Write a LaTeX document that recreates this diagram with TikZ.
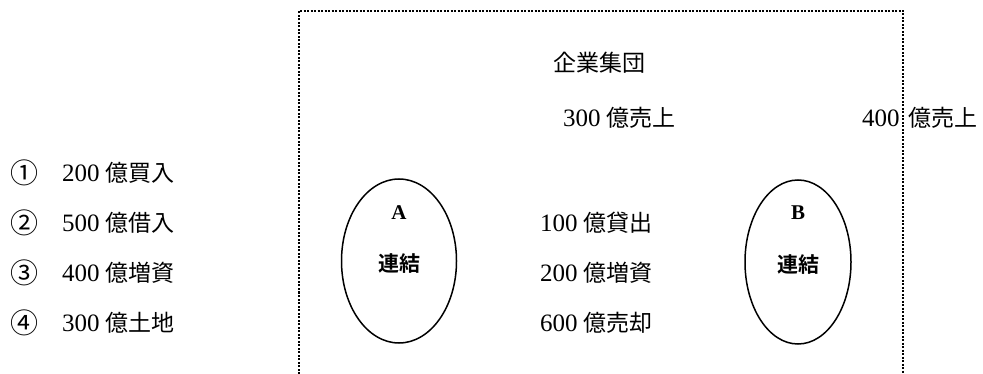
\documentclass[tikz,border=0pt]{standalone}
\usepackage{fontspec}
\setmainfont{Liberation Serif}
\newfontfamily\cjk{Noto Sans CJK JP}
\newfontfamily\cjkb{Noto Sans CJK JP Bold}
\usetikzlibrary{shapes.geometric}
\begin{document}
\begin{tikzpicture}[x=1pt,y=-1pt,
  txt/.style={inner sep=0pt,anchor=west,font=\fontsize{25}{28}\selectfont},
  circnum/.style={inner sep=0pt,font=\fontsize{28}{30}\selectfont\cjk},
  oval/.style={draw,line width=1.5pt,ellipse,inner sep=0pt},
  lettr/.style={inner sep=0pt,font=\fontsize{21}{24}\selectfont\bfseries},
  lbl/.style={inner sep=0pt,font=\fontsize{21}{25}\selectfont\cjkb},
  group/.style={line width=2pt,dash pattern=on 2pt off 1.5pt}]
\useasboundingbox (0,0) rectangle (983,374);
% group frame (open at bottom)
\coordinate (fbl) at (299,374);
\coordinate (ftl) at (299,11);
\coordinate (ftr) at (903,11);
\coordinate (fbr) at (903,374);
\draw[group] (fbl) -- (ftl) -- (ftr) -- (fbr);
% titles
\node[txt] (title) at (553,63) {{\cjk\fontsize{23}{26}\selectfont 企業集団}};
\node[txt] (s300) at (563,118) {300 {\cjk\fontsize{23}{26}\selectfont 億売上}};
\node[txt] (s400) at (862,118) {400\hspace{3pt} {\cjk\fontsize{23}{26}\selectfont 億売上}};
% left list
\node[circnum] (n1) at (24,173) {①};
\node[circnum] (n2) at (24,223) {②};
\node[circnum] (n3) at (24,273) {③};
\node[circnum] (n4) at (24,323) {④};
\node[txt] (l1) at (62,173) {200 {\cjk\fontsize{23}{26}\selectfont 億買入}};
\node[txt] (l2) at (62,223) {500 {\cjk\fontsize{23}{26}\selectfont 億借入}};
\node[txt] (l3) at (62,273) {400 {\cjk\fontsize{23}{26}\selectfont 億増資}};
\node[txt] (l4) at (62,323) {300 {\cjk\fontsize{23}{26}\selectfont 億土地}};
% middle list
\node[txt] (m1) at (540,223) {100 {\cjk\fontsize{23}{26}\selectfont 億貸出}};
\node[txt] (m2) at (540,273) {200 {\cjk\fontsize{23}{26}\selectfont 億増資}};
\node[txt] (m3) at (540,323) {600 {\cjk\fontsize{23}{26}\selectfont 億売却}};
% ellipses
\node[oval,minimum width=115pt,minimum height=164pt] (ea) at (399,261) {};
\node[lettr] (ta) at (399,213) {A};
\node[lbl] (la) at (399,264) {連結};
\node[oval,minimum width=106pt,minimum height=164pt] (eb) at (798,262) {};
\node[lettr] (tb) at (798,213) {B};
\node[lbl] (lb) at (798,265) {連結};
\end{tikzpicture}
\end{document}
